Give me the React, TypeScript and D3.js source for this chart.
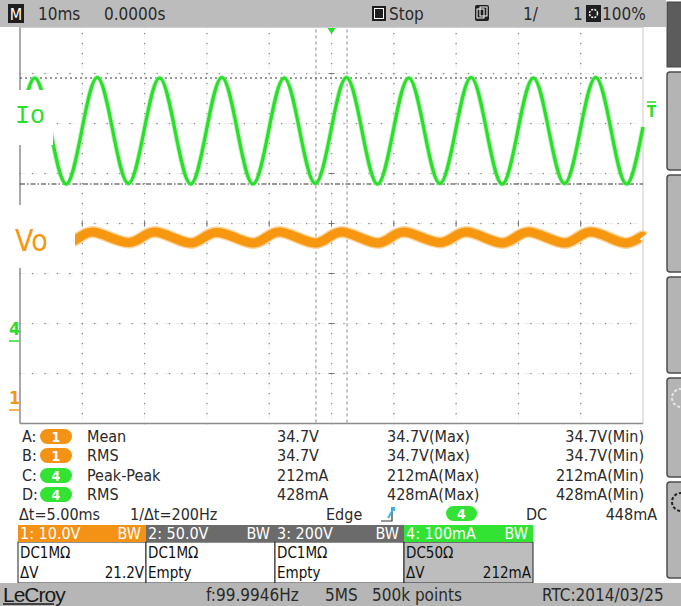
import React from 'react';
import * as d3 from 'd3';

// scope trace, 10 ms/div, trigger at centre
const ioTimeMs = [-50, -47.6, -45.1, -42.6, -40.1, -37.6, -35.1, -32.6, -30.1, -27.6, -25.1, -22.6, -20.1, -17.6, -15.1, -12.6, -10.1, -7.6, -5.1, -2.6, -0.1, 2.4, 4.9, 7.4, 9.9, 12.4, 14.9, 17.4, 19.9, 22.4, 24.9, 27.4, 29.9, 32.4, 34.9, 37.4, 39.9, 42.4, 44.9, 47.4, 50];
const ioCurrentmA = [428, 526, 420, 314, 420, 527, 420, 315, 420, 526, 420, 314, 420, 527, 420, 314, 420, 526, 420, 315, 420, 527, 420, 314, 420, 526, 420, 315, 420, 527, 420, 314, 420, 526, 420, 315, 420, 527, 420, 314, 428];

const voTimeMs = [-50, -48.4, -45.5, -42.6, -40.5, -38.4, -35.5, -32.6, -30.5, -28.4, -25.5, -22.6, -20.5, -18.4, -15.5, -12.6, -10.5, -8.4, -5.5, -2.6, -0.5, 1.6, 4.5, 7.4, 9.5, 11.6, 14.5, 17.4, 19.5, 21.6, 24.5, 27.4, 29.5, 31.6, 34.5, 37.4, 39.5, 41.6, 44.5, 47.4, 49.5, 50];
const voVolts = [34.9, 35.6, 34.5, 33.4, 34.5, 35.6, 34.5, 33.5, 34.5, 35.6, 34.5, 33.4, 34.5, 35.5, 34.5, 33.4, 34.5, 35.6, 34.5, 33.4, 34.5, 35.6, 34.5, 33.4, 34.5, 35.6, 34.5, 33.5, 34.5, 35.6, 34.5, 33.4, 34.5, 35.6, 34.5, 33.4, 34.5, 35.6, 34.5, 33.4, 34.5, 34.7];

const cursorTimesMs = [-2.5, 2.5];
const ioCursorsmA = [526, 314];
const triggerLevelmA = 448;

const measIds = ['A:', 'B:', 'C:', 'D:'];
const measChannels = ['1', '1', '4', '4'];
const measParams = ['Mean', 'RMS', 'Peak-Peak', 'RMS'];
const measValues = ['34.7V', '34.7V', '212mA', '428mA'];
const measMax = ['34.7V(Max)', '34.7V(Max)', '212mA(Max)', '428mA(Max)'];
const measMin = ['34.7V(Min)', '34.7V(Min)', '212mA(Min)', '428mA(Min)'];

const chHeaders = ['1: 10.0V', '2: 50.0V', '3:  200V', '4: 100mA'];
const chCoupling = ['DC1MΩ', 'DC1MΩ', 'DC1MΩ', 'DC50Ω'];
const chLine2Left = ['ΔV', 'Empty', 'Empty', 'ΔV'];
const chLine2Right = ['21.2V', '', '', '212mA'];

const UI = "'Liberation Sans Narrow', 'Arial Narrow', 'DejaVu Sans Condensed', sans-serif";
const GREEN = '#28e028';
const ORANGE = '#f7960f';
const CH1 = '#f39214';
const CH4 = '#33e333';
const GRAY = '#6b6b6b';
const TXT = '#2a2a2a';

const W = 681, H = 606;
const L = 20, R = 643, T = 23.5, B = 423.5;

export default function App() {
  const x = d3.scaleLinear().domain([-50, 50]).range([L, R]);
  const yIo = d3.scaleLinear().domain([-165, 635]).range([B, T]);
  const yVo = d3.scaleLinear().domain([-2.7, 77.3]).range([B, T]);
  const gy = d3.scaleLinear().domain([0, 8]).range([B, T]);

  const ioLine = d3.line<number>()
    .x((_, i) => x(ioTimeMs[i]))
    .y(d => yIo(d))
    .curve(d3.curveNatural);
  const voLine = d3.line<number>()
    .x((_, i) => x(voTimeMs[i]))
    .y(d => yVo(d))
    .curve(d3.curveNatural);

  const colTimes = d3.range(-40, 41, 10);
  const rowDivs = d3.range(1, 8);
  const dots: JSX.Element[] = [];
  colTimes.forEach(t => {
    d3.range(0, 40).forEach(k => {
      const yy = gy(k / 5);
      dots.push(<rect key={`v${t}_${k}`} x={x(t) - 0.6} y={yy - 0.6} width={1.3} height={1.3} fill="#8a8a8a" />);
    });
  });
  rowDivs.forEach(r => {
    d3.range(0, 50).forEach(k => {
      const xx = x(-50 + k * 2);
      dots.push(<rect key={`h${r}_${k}`} x={xx - 0.6} y={gy(r) - 0.6} width={1.3} height={1.3} fill="#8a8a8a" />);
    });
  });

  const rowY = [442, 461, 481, 500];
  const boxX = [18, 146, 275, 404, 533];
  const voPath = voLine(voVolts) ?? '';
  const ioPath = ioLine(ioCurrentmA) ?? '';

  return (
    <svg width={W} height={H} style={{ position: 'absolute', left: 0, top: 0, background: '#fff' }} fontFamily={UI}>
      <rect x={0} y={0} width={W} height={H} fill="#fff" />

      {/* faint ghost grid */}
      {colTimes.map(t => (
        <line key={`gv${t}`} x1={x(t)} x2={x(t)} y1={T} y2={B} stroke="#efefef" strokeDasharray="6,4" />
      ))}
      {rowDivs.map(r => (
        <line key={`gh${r}`} x1={L} x2={R} y1={gy(r)} y2={gy(r)} stroke="#efefef" strokeDasharray="6,6" />
      ))}
      {dots}
      {/* centre axis ticks */}
      {rowDivs.map(r => (
        <line key={`ct${r}`} x1={x(0) - 3} x2={x(0) + 3} y1={gy(r)} y2={gy(r)} stroke="#777" />
      ))}
      {colTimes.map(t => (
        <line key={`cx${t}`} x1={x(t)} x2={x(t)} y1={gy(4) - 3} y2={gy(4) + 3} stroke="#777" />
      ))}

      {/* frame */}
      <line x1={L} x2={L} y1={T} y2={B} stroke="#8c8c8c" strokeWidth={1.5} />
      <line x1={L} x2={R} y1={B} y2={B} stroke="#8c8c8c" strokeWidth={1.5} />
      <line x1={R} x2={R} y1={T} y2={B} stroke="#c8c8c8" />
      <line x1={L} x2={R} y1={27.5} y2={27.5} stroke="#d0d0d0" />

      {/* time cursors */}
      {cursorTimesMs.map(t => (
        <line key={`tc${t}`} x1={x(t)} x2={x(t)} y1={T} y2={B} stroke="#8a8a8a" strokeDasharray="3,3" />
      ))}
      {/* amplitude cursors */}
      <line x1={L} x2={R} y1={yIo(ioCursorsmA[0])} y2={yIo(ioCursorsmA[0])} stroke="#333" strokeDasharray="2,3" />
      <line x1={L} x2={R} y1={yIo(ioCursorsmA[1])} y2={yIo(ioCursorsmA[1])} stroke="#333" strokeDasharray="5,2,1.5,2" />

      {/* traces */}
      <path d={voPath} fill="none" stroke="#fbc270" strokeWidth={12} strokeLinejoin="round" opacity={0.7} />
      <path d={voPath} fill="none" stroke={ORANGE} strokeWidth={9} strokeLinejoin="round" />
      <path d={ioPath} fill="none" stroke="#9af09a" strokeWidth={5} strokeLinejoin="round" opacity={0.7} />
      <path d={ioPath} fill="none" stroke={GREEN} strokeWidth={3.2} strokeLinejoin="round" />

      {/* labels over traces */}
      <rect x={0} y={90} width={53} height={55} fill="#fff" />
      <text x={15} y={123} fill={GREEN} fontFamily="'Courier New', 'Liberation Mono', monospace" fontSize={25}>Io</text>
      <rect x={0} y={205} width={75} height={63} fill="#fff" />
      <text x={15} y={251} fill={ORANGE} fontFamily={UI} fontSize={30}>Vo</text>

      {/* ground markers */}
      <text x={9} y={yIo(0) - 6} fill={GREEN} fontSize={18} fontWeight="bold">4</text>
      <line x1={9} x2={19} y1={yIo(0)} y2={yIo(0)} stroke={GREEN} strokeWidth={1.5} />
      <text x={9} y={yVo(0) - 6} fill={ORANGE} fontSize={18} fontWeight="bold">1</text>
      <line x1={9} x2={19} y1={yVo(0)} y2={yVo(0)} stroke={ORANGE} strokeWidth={1.5} />
      {/* trigger level */}
      <line x1={647} x2={656} y1={yIo(triggerLevelmA) - 15} y2={yIo(triggerLevelmA) - 15} stroke={GREEN} strokeWidth={1.5} />
      <text x={651.5} y={yIo(triggerLevelmA)} fill={GREEN} fontSize={15} fontWeight="bold" textAnchor="middle">T</text>
      {/* trigger position */}
      <path d={`M${x(0) - 4},28 L${x(0) + 4},28 L${x(0)},34 Z`} fill={GREEN} />

      {/* top bar */}
      <rect x={0} y={0} width={666} height={27} fill="#bcbcbc" />
      <rect x={8} y={4} width={16} height={19} fill="#1e1e1e" />
      <text x={16} y={20} fill="#fff" fontSize={16} textAnchor="middle">M</text>
      <text x={38} y={20} fill={TXT} fontSize={17}>10ms</text>
      <text x={104} y={20} fill={TXT} fontSize={17}>0.0000s</text>
      <rect x={372} y={6} width={14} height={15} fill="#1e1e1e" />
      <rect x={374.5} y={8.5} width={9} height={10} fill="none" stroke="#fff" />
      <text x={389} y={20} fill={TXT} fontSize={17}>Stop</text>
      <rect x={475} y={5} width={14} height={16} rx={2} fill="#1e1e1e" />
      <rect x={477} y={9} width={7} height={9} fill="none" stroke="#fff" />
      <rect x={480} y={7} width={7} height={9} fill="none" stroke="#fff" />
      <text x={523} y={20} fill={TXT} fontSize={17}>1/</text>
      <text x={573} y={20} fill={TXT} fontSize={17}>1</text>
      <rect x={586} y={5} width={15} height={17} fill="#1e1e1e" />
      <circle cx={593.5} cy={13.5} r={4} fill="none" stroke="#fff" strokeWidth={1.5} strokeDasharray="2,1.2" />
      <text x={602} y={20} fill={TXT} fontSize={17}>100%</text>

      {/* right soft-key column */}
      <rect x={667} y={2} width={16} height={65} fill="#5c5c5c" stroke="#444" />
      {[[72, 170], [175, 272], [277, 373], [378, 477], [482, 578]].map(([a, b], i) => (
        <g key={`btn${i}`}>
          <rect x={667} y={a} width={18} height={b - a} rx={3} fill="#b4b4b4" stroke="#4e4e4e" strokeWidth={1.5} />
          {i >= 3 && (
            <circle cx={681} cy={a + 20} r={9} fill="none" stroke={i === 4 ? '#222' : '#e6e6e6'} strokeWidth={2} strokeDasharray="3,2" />
          )}
        </g>
      ))}

      {/* measurement table */}
      {measIds.map((id, i) => (
        <g key={`m${i}`} fontSize={16} fill={TXT}>
          <text x={22} y={rowY[i]}>{id}</text>
          <rect x={40} y={rowY[i] - 13} width={32} height={15} rx={7.5} fill={measChannels[i] === '1' ? CH1 : CH4} />
          <text x={56} y={rowY[i] - 0.5} fill="#fff" fontSize={14} fontWeight="bold" textAnchor="middle">{measChannels[i]}</text>
          <text x={87} y={rowY[i]}>{measParams[i]}</text>
          <text x={277} y={rowY[i]}>{measValues[i]}</text>
          <text x={387} y={rowY[i]}>{measMax[i]}</text>
          <text x={644} y={rowY[i]} textAnchor="end">{measMin[i]}</text>
        </g>
      ))}

      {/* cursor / trigger line */}
      <g fontSize={16} fill={TXT}>
        <text x={19} y={520}>Δt=5.00ms</text>
        <text x={130} y={520}>1/Δt=200Hz</text>
        <text x={326} y={520}>Edge</text>
        <path d="M381,521 L392,521 L392,508" fill="none" stroke="#333" strokeWidth={1.2} />
        <path d="M388,518 L394,508 M391,508 L394,508 L394,511" fill="none" stroke="#39b5e6" strokeWidth={2} />
        <rect x={446} y={506} width={31} height={15} rx={7.5} fill={CH4} />
        <text x={461.5} y={518.5} fill="#fff" fontSize={14} fontWeight="bold" textAnchor="middle">4</text>
        <text x={526} y={520}>DC</text>
        <text x={657} y={520} textAnchor="end">448mA</text>
      </g>

      {/* channel boxes */}
      {chHeaders.map((h, i) => {
        const x0 = boxX[i], x1 = boxX[i + 1];
        const head = i === 0 ? CH1 : i === 3 ? CH4 : GRAY;
        return (
          <g key={`ch${i}`} fontSize={15}>
            <rect x={x0} y={542} width={x1 - x0} height={41} fill={i === 3 ? '#bdbdbd' : '#fff'} stroke="#222" />
            <rect x={x0} y={525} width={x1 - x0} height={17} fill={head} />
            <text x={x0 + 2} y={539} fill="#fff" fontSize={16}>{h}</text>
            <text x={x1 - 5} y={539} fill="#fff" fontSize={16} textAnchor="end">BW</text>
            <text x={x0 + 2} y={558} fill="#111">{chCoupling[i]}</text>
            <text x={x0 + 2} y={578} fill="#111">{chLine2Left[i]}</text>
            <text x={x1 - 2} y={578} fill="#111" textAnchor="end">{chLine2Right[i]}</text>
          </g>
        );
      })}

      {/* status bar */}
      <rect x={0} y={583} width={W} height={23} fill="#b6b6b6" />
      <text x={3} y={602} fill="#1a1a1a" fontSize={21} fontFamily="'Liberation Sans', sans-serif" letterSpacing={-1}>LeCroy</text>
      <line x1={3} x2={54} y1={604} y2={604} stroke="#1a1a1a" strokeWidth={1.5} />
      <g fontSize={17} fill={TXT}>
        <text x={206} y={601}>f:99.9946Hz</text>
        <text x={325} y={601}>5MS</text>
        <text x={372} y={601}>500k points</text>
        <text x={542} y={601}>RTC:2014/03/25</text>
      </g>
    </svg>
  );
}
